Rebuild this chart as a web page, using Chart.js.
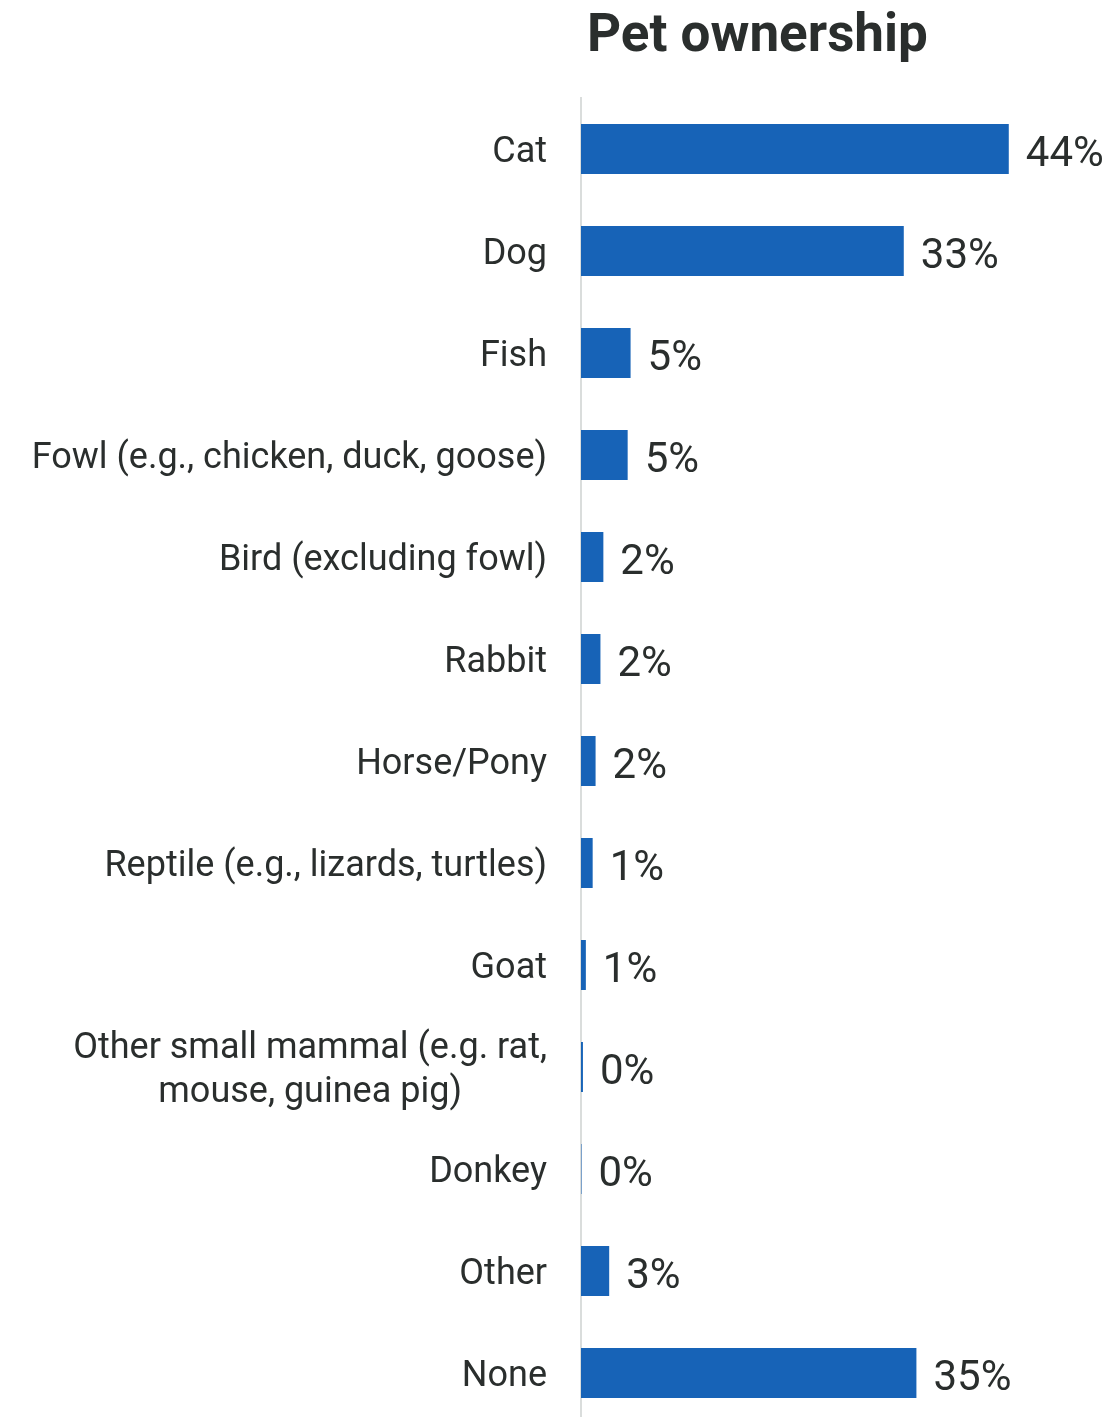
<!DOCTYPE html>
<html>
<head>
<meta charset="utf-8">
<script src="https://cdn.jsdelivr.net/npm/chart.js@4.4.1/dist/chart.umd.min.js"></script>
<style>
  html, body { margin: 0; padding: 0; background: #ffffff; }
  #wrap { width: 1111px; height: 1417px; overflow: hidden; position: relative; }
  #box { width: 1111px; height: 1424px; position: relative; }
</style>
</head>
<body>
<div id="wrap"><div id="box"><canvas id="petChart"></canvas></div></div>
<script>
// chart data
const chartTitle = 'Pet ownership';
const categories = [
  'Cat',
  'Dog',
  'Fish',
  'Fowl (e.g., chicken, duck, goose)',
  'Bird (excluding fowl)',
  'Rabbit',
  'Horse/Pony',
  'Reptile (e.g., lizards, turtles)',
  'Goat',
  ['Other small mammal (e.g. rat,', 'mouse, guinea pig)'],
  'Donkey',
  'Other',
  'None'
];
// share of respondents, %
const shares = [44, 33.2, 5.1, 4.8, 2.3, 2.0, 1.5, 1.2, 0.5, 0.2, 0.05, 2.9, 34.5];
const axisMax = 54;

const barColor = '#1763b7';
const textColor = '#2a2e2d';
const labelFont = '400 36px Roboto';

// draws title, category labels and value labels
const labelPlugin = {
  id: 'petLabels',
  afterDatasetsDraw(chart) {
    const ctx = chart.ctx;
    const yScale = chart.scales.y;
    const area = chart.chartArea;
    const meta = chart.getDatasetMeta(0);

    ctx.save();
    // title
    ctx.font = '700 53px Roboto';
    ctx.fillStyle = textColor;
    ctx.textAlign = 'left';
    ctx.textBaseline = 'alphabetic';
    ctx.fillText(chartTitle, area.left + 6, 51);

    // category labels, right aligned; wrapped lines centred in their block
    ctx.font = labelFont;
    ctx.textBaseline = 'middle';
    ctx.textAlign = 'center';
    const right = area.left - 34;
    const lineH = 44;
    categories.forEach((cat, i) => {
      const y = yScale.getPixelForTick(i) + 4;
      const lines = Array.isArray(cat) ? cat : [cat];
      const blockW = Math.max(...lines.map(l => ctx.measureText(l).width));
      const cx = right - blockW / 2;
      lines.forEach((line, j) => {
        ctx.fillText(line, cx, y + (j - (lines.length - 1) / 2) * lineH);
      });
    });

    // value labels
    ctx.textAlign = 'left';
    ctx.font = '400 42px Roboto';
    meta.data.forEach((bar, i) => {
      ctx.fillText(Math.round(shares[i]) + '%', bar.x + 17, bar.y + 6);
    });
    ctx.restore();
  }
};

new Chart(document.getElementById('petChart'), {
  type: 'bar',
  data: {
    labels: categories,
    datasets: [{
      data: shares,
      backgroundColor: barColor,
      categoryPercentage: 1,
      barPercentage: 0.49
    }]
  },
  options: {
    indexAxis: 'y',
    responsive: true,
    maintainAspectRatio: false,
    animation: false,
    layout: { padding: { top: 98, right: 5, bottom: 0, left: 0 } },
    plugins: {
      legend: { display: false },
      tooltip: { enabled: false }
    },
    scales: {
      x: { display: false, min: 0, max: axisMax },
      y: {
        grid: { display: false },
        border: { display: true, color: '#dadddc', width: 2 },
        ticks: { display: false },
        afterFit(scale) { scale.width = 581; }
      }
    }
  },
  plugins: [labelPlugin]
});
</script>
</body>
</html>
